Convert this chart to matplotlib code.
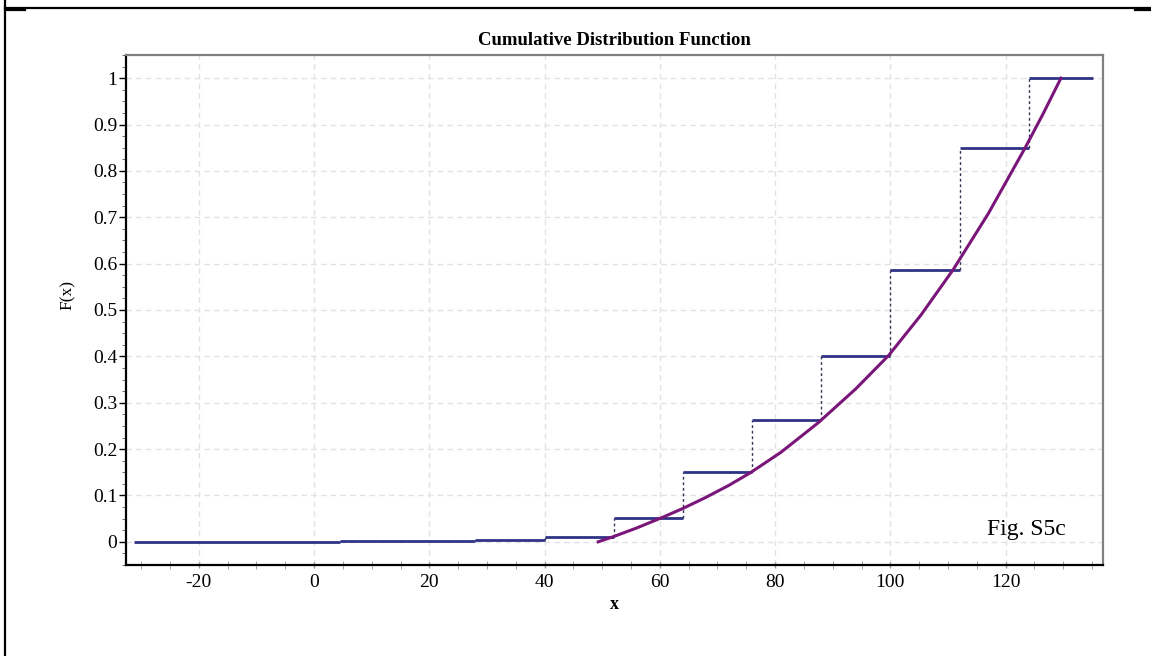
import numpy as np
import matplotlib.pyplot as plt
from matplotlib.lines import Line2D
from matplotlib.ticker import MultipleLocator

# empirical CDF: jump locations and level held after each jump
step_edges = [-31.2, 4.5, 28, 40, 52, 64, 76, 88, 100, 112, 124, 135.2]
step_levels = [0.0, 0.002, 0.004, 0.011, 0.052, 0.151, 0.262, 0.400, 0.587, 0.850, 1.0]

# fitted CDF curve
curve_x = [49.3, 52.0, 56.0, 60.3, 64.0, 68.0, 72.0, 75.7, 81.0, 87.5, 94.0,
           99.7, 105.3, 110.9, 117.0, 123.4, 126.5, 129.6]
curve_y = [0.0, 0.0115, 0.030, 0.052, 0.072, 0.096, 0.122, 0.149, 0.193, 0.257, 0.330,
           0.402, 0.489, 0.587, 0.708, 0.850, 0.923, 1.0]

x_ticks = [-20, 0, 20, 40, 60, 80, 100, 120]
y_ticks = [0, 0.1, 0.2, 0.3, 0.4, 0.5, 0.6, 0.7, 0.8, 0.9, 1]
y_ticklabels = ['0', '0.1', '0.2', '0.3', '0.4', '0.5', '0.6', '0.7', '0.8', '0.9', '1']

plt.rcParams['font.family'] = 'Liberation Serif'
plt.rcParams['axes.unicode_minus'] = False

fig = plt.figure(figsize=(11.51, 6.56), dpi=100)
ax = fig.add_axes([0.1092, 0.1387, 0.8491, 0.7775])

step_color = '#2f3384'
curve_color = '#7a1679'

ax.hlines(step_levels, step_edges[:-1], step_edges[1:], color=step_color, lw=2, zorder=3)
ax.vlines(step_edges[1:-1], step_levels[:-1], step_levels[1:], color='#333355',
          lw=1, linestyles=(0, (2, 2)), zorder=2)
ax.plot(curve_x, curve_y, color=curve_color, lw=2.2, zorder=4)

ax.set_xlim(-32.7, 136.9)
ax.set_ylim(-0.05, 1.05)
ax.set_xticks(x_ticks)
ax.set_yticks(y_ticks)
ax.set_yticklabels(y_ticklabels)
ax.xaxis.set_minor_locator(MultipleLocator(5))
ax.yaxis.set_minor_locator(MultipleLocator(0.025))

ax.tick_params(axis='both', which='major', labelsize=14, length=5, width=1)
ax.tick_params(axis='x', which='both', direction='inout', color='#999999', pad=4)
ax.tick_params(axis='x', which='minor', length=6)
ax.tick_params(axis='y', which='minor', length=3, color='#555555')
ax.tick_params(axis='y', which='major', pad=1)

ax.grid(True, which='major', color='#e2e2e2', lw=1, linestyle=(0, (4, 3)))
ax.set_axisbelow(True)

for side in ['left', 'bottom']:
    ax.spines[side].set_color('black')
    ax.spines[side].set_linewidth(1.6)
for side in ['top', 'right']:
    ax.spines[side].set_color('#808080')
    ax.spines[side].set_linewidth(1.6)

ax.set_title('Cumulative Distribution Function', fontsize=13.5, fontweight='bold', pad=7)
ax.set_xlabel('x', fontsize=13, fontweight='bold')
ax.xaxis.set_label_coords(0.5, -0.06)
ax.set_ylabel('F(x)', fontsize=12.5)
ax.yaxis.set_label_coords(-0.051, 0.53)

fig.text(986.7 / 1151, 1 - 535 / 656, 'Fig. S5c', fontsize=17, va='baseline', ha='left')

# page frame lines around the figure
W, H = 1151, 656
frame = [([5, 5], [0, H]), ([5, W], [8, 8]), ([5, 25], [9.5, 9.5]), ([1135, W], [10, 10])]
for xs, ys in frame:
    fig.add_artist(Line2D([x / W for x in xs], [1 - y / H for y in ys],
                          color='black', lw=1.6, transform=fig.transFigure))

plt.savefig('out.png', dpi=100)
